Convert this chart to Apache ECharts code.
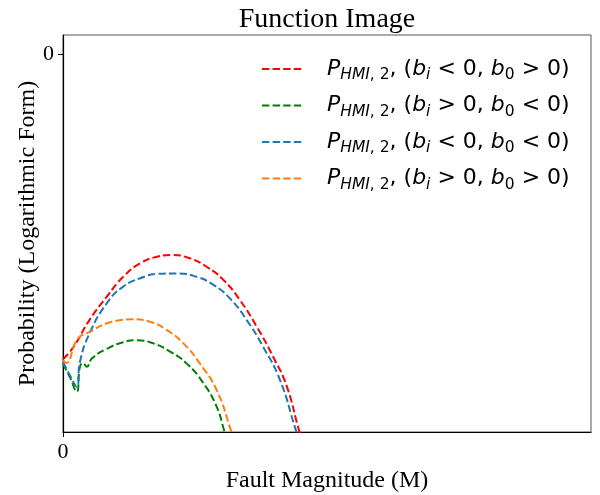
<!DOCTYPE html>
<html>
<head>
<meta charset="utf-8">
<script src="https://cdn.jsdelivr.net/npm/echarts@6.0.0/dist/echarts.min.js"></script>
<style>
  html, body { margin: 0; padding: 0; background: #fff; }
  #chart { width: 600px; height: 495px; }
</style>
</head>
<body>
<div id="chart"></div>
<script>
// values (x = fault magnitude, y = log probability)
const xRed = [0, 0.2, 0.5, 0.83, 1.14, 1.46, 1.78, 2.06, 2.4, 2.72, 3.04, 3.35, 3.67, 3.98, 4.24, 4.48, 4.6]
const yRed = [-16.15, -15.5, -14.08, -12.84, -11.79, -11.08, -10.73, -10.64, -10.81, -11.26, -11.96, -13.02, -14.43, -16.02, -17.6, -20.0, -20.9]

const xGreen = [0, 0.13, 0.26, 0.32, 0.38, 0.45, 0.55, 0.83, 1.14, 1.4, 1.71, 2.03, 2.34, 2.66, 2.91, 3.05, 3.12]
const yGreen = [-16.4, -17.1, -17.87, -16.55, -16.35, -16.55, -16.1, -15.6, -15.25, -15.15, -15.31, -15.75, -16.37, -17.42, -18.66, -19.9, -20.6]

const xBlue = [0, 0.13, 0.26, 0.32, 0.5, 0.83, 1.14, 1.46, 1.78, 2.15, 2.53, 2.85, 3.16, 3.48, 3.79, 4.11, 4.41, 4.5]
const yBlue = [-16.3, -17.0, -17.6, -16.3, -14.8, -13.19, -12.31, -11.87, -11.64, -11.61, -11.79, -12.22, -12.93, -14.08, -15.49, -17.25, -19.9, -20.6]

const xOrange = [0, 0.06, 0.27, 0.51, 0.83, 1.1, 1.3, 1.65, 1.96, 2.28, 2.59, 2.91, 3.18, 3.25]
const yOrange = [-16.2, -16.35, -15.1, -14.69, -14.25, -14.08, -14.04, -14.17, -14.6, -15.31, -16.37, -17.78, -19.9, -20.5]

const seriesNames = ['red', 'green', 'blue', 'orange']
const seriesLabels = [
  '{sp| }{it|P}{si|HMI}{sn|, 2}{n|, (}{it|b}{si|i}{n| < 0, }{it|b}{sn|0}{n| > 0)}',
  '{sp| }{it|P}{si|HMI}{sn|, 2}{n|, (}{it|b}{si|i}{n| > 0, }{it|b}{sn|0}{n| < 0)}',
  '{sp| }{it|P}{si|HMI}{sn|, 2}{n|, (}{it|b}{si|i}{n| < 0, }{it|b}{sn|0}{n| < 0)}',
  '{sp| }{it|P}{si|HMI}{sn|, 2}{n|, (}{it|b}{si|i}{n| > 0, }{it|b}{sn|0}{n| > 0)}'
]
const colors = ['#ff0000', '#008000', '#1f77b4', '#ff7f0e']

const xTicks = [0]
const yTicks = [0]

const pairs = (xs, ys) => xs.map((x, i) => [x, ys[i]])
const curves = [pairs(xRed, yRed), pairs(xGreen, yGreen), pairs(xBlue, yBlue), pairs(xOrange, yOrange)]

const serif = 'Liberation Serif'
const math = 'DejaVu Sans'

const chart = echarts.init(document.getElementById('chart'))

const option = {
  animation: false,
  title: {
    text: 'Function Image',
    left: 322,
    textAlign: 'center',
    top: 1,
    textStyle: { fontFamily: serif, fontSize: 28, fontWeight: 'normal', color: '#000' }
  },
  grid: {
    left: 63, right: 9, top: 35, bottom: 63,
    show: true, borderColor: '#555', borderWidth: 1,
    containLabel: false, outerBoundsMode: 'none'
  },
  legend: {
    orient: 'vertical',
    left: 256,
    top: 53,
    itemWidth: 42,
    itemHeight: 14,
    itemGap: 11.5,
    data: seriesNames,
    itemStyle: { opacity: 0 },
    formatter: name => seriesLabels[seriesNames.indexOf(name)],
    textStyle: {
      color: '#000',
      rich: {
        sp: { width: 18 },
        it: { fontFamily: math, fontStyle: 'italic', fontSize: 22, lineHeight: 28, color: '#000' },
        n: { fontFamily: math, fontSize: 22, lineHeight: 28, color: '#000' },
        si: { fontFamily: math, fontStyle: 'italic', fontSize: 15.5, lineHeight: 16, verticalAlign: 'bottom', color: '#000' },
        sn: { fontFamily: math, fontSize: 15.5, lineHeight: 16, verticalAlign: 'bottom', color: '#000' }
      }
    }
  },
  xAxis: {
    type: 'value',
    min: 0,
    max: 10,
    name: 'Fault Magnitude (M)',
    nameLocation: 'middle',
    nameGap: 37,
    nameMoveOverlap: false,
    nameTextStyle: { fontFamily: serif, fontSize: 24, color: '#000' },
    axisLine: { onZero: false, lineStyle: { color: '#000', width: 1.2 } },
    axisTick: { show: true, length: 5, customValues: xTicks, lineStyle: { color: '#000' } },
    axisLabel: { customValues: xTicks, fontFamily: serif, fontSize: 22, color: '#000', margin: 9 },
    splitLine: { show: false }
  },
  yAxis: {
    type: 'value',
    min: -20,
    max: 1,
    name: 'Probability (Logarithmic Form)',
    nameLocation: 'middle',
    nameGap: 23,
    nameMoveOverlap: false,
    nameTextStyle: { fontFamily: serif, fontSize: 24, color: '#000' },
    axisLine: { show: true, onZero: false, lineStyle: { color: '#000', width: 1.2 } },
    axisTick: { show: true, length: 5, customValues: yTicks, lineStyle: { color: '#000' } },
    axisLabel: { customValues: yTicks, fontFamily: serif, fontSize: 22, color: '#000', margin: 9 },
    splitLine: { show: false }
  },
  series: curves.map((d, i) => ({
    name: seriesNames[i],
    type: 'line',
    data: d,
    smooth: 0.5,
    showSymbol: false,
    symbol: 'none',
    color: colors[i],
    lineStyle: { color: colors[i], width: 2, type: [7.4, 3.2] }
  }))
}

chart.setOption(option)
</script>
</body>
</html>
